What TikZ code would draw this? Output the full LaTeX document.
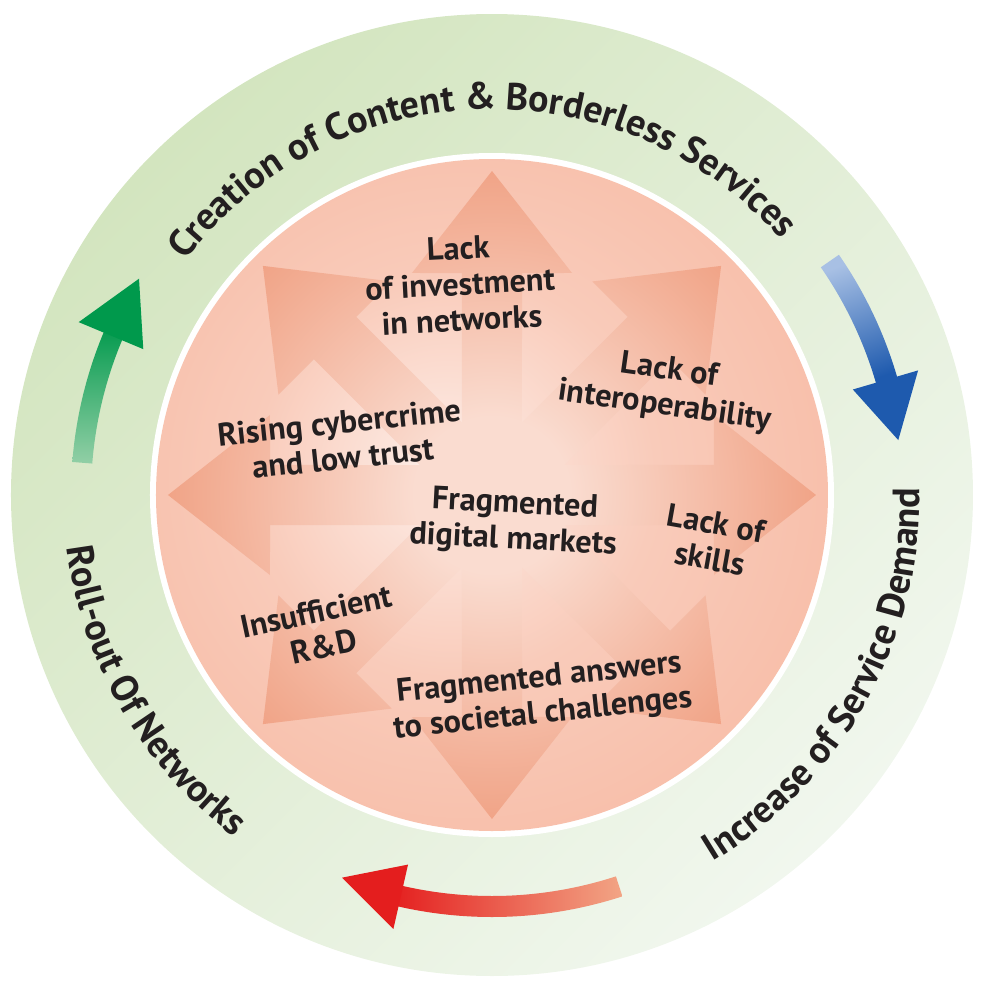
\documentclass[tikz,border=0pt]{standalone}
\usepackage{fontspec}
\setmainfont{PT Sans}
\usetikzlibrary{decorations.text}

\definecolor{ringtop}{HTML}{D3E5BF}
\definecolor{ringbot}{HTML}{F1F7EE}
\definecolor{pinkout}{HTML}{F7B8A1}
\definecolor{pinkmid}{HTML}{F9CBBA}
\definecolor{pinkin}{HTML}{FDEEE8}
\definecolor{arrowlight}{HTML}{FADCD0}
\definecolor{arrowpink}{HTML}{EE9574}
\definecolor{textdark}{HTML}{231F20}
\definecolor{greenhead}{HTML}{00994C}
\definecolor{greentail}{HTML}{92CFA6}
\definecolor{bluehead}{HTML}{1E5AAE}
\definecolor{bluetail}{HTML}{A8C0E4}
\definecolor{redhead}{HTML}{E41E1E}
\definecolor{redtail}{HTML}{F2A585}

\pgfdeclareradialshading{innerglow}{\pgfpoint{-4bp}{2bp}}{color(0bp)=(pinkin); color(15bp)=(pinkmid); color(35bp)=(pinkout); color(50bp)=(pinkout)}
\pgfdeclareradialshading{arrowfade}{\pgfpointorigin}{color(0bp)=(arrowlight); color(6bp)=(arrowlight); color(30bp)=(arrowpink); color(50bp)=(arrowpink)}

\newcommand\ringfont{\fontsize{10.8}{12}\selectfont\bfseries}

\tikzset{
  cause/.style={font=\fontsize{9.2}{10.2}\selectfont\bfseries, text=textdark, align=center},
  ringtext/.style={decorate, decoration={text along path, text align=center, text color=textdark, text={|\ringfont|#1}}}
}

\begin{document}
\begin{tikzpicture}
    \useasboundingbox (-4.92,-5.00) rectangle (4.88,4.95);
    \shade[top color=ringtop, bottom color=ringbot, shading angle=45] (0,0) circle (4.81);
    \fill[white] (0,0) circle (3.42);
    \shade[shading=innerglow] (0,0) circle (3.36);

    \shade[shading=arrowfade] foreach \a in {0,45,...,315} {({\a-90}:0.3) -- ({\a-7.7}:2.24) -- ({\a-19.82}:2.36)
        -- (\a:3.24) -- ({\a+19.82}:2.36) -- ({\a+7.7}:2.24) -- ({\a+90}:0.3) -- cycle};

    \node[cause, rotate=3] (invest) at (-0.32,2.11) {Lack\\of investment\\in networks};
    \node[cause, rotate=-8] (interop) at (1.75,1.06) {Lack of\\interoperability};
    \node[cause, rotate=6] (cyber) at (-1.51,0.55) {Rising cybercrime\\and low trust};
    \node[cause, rotate=-3] (markets) at (0.22,-0.28) {Fragmented\\digital markets};
    \node[cause, rotate=-10] (skills) at (2.21,-0.46) {Lack of\\skills};
    \node[cause, rotate=12] (rnd) at (-1.72,-1.34) {Insufficient\\R\&D};
    \node[cause, rotate=6] (answers) at (0.49,-2.02) {Fragmented answers\\to societal challenges};

    \path[ringtext={Creation of Content {\&} Borderless Services}] (172:3.86) arc[start angle=172, end angle=12, radius=3.86];
    \path[ringtext={Increase of Service Demand}] (-75:4.28) arc[start angle=-75, end angle=17, radius=4.28];
    \path[ringtext={Roll-out Of Networks}] (170:4.28) arc[start angle=170, end angle=250, radius=4.28];

    \shade[top color=greenhead, bottom color=greentail] (175.5:4.21) arc[start angle=175.5, end angle=156, radius=4.21]
        -- (156:4.01) arc[start angle=156, end angle=175.5, radius=4.01] -- cycle;
    \fill[greenhead] (157.3:3.78) -- (148.5:4.14) -- (157.3:4.48) -- cycle;

    \shade[top color=bluetail, bottom color=bluehead, shading angle=20] (34.7:4.22) arc[start angle=34.7, end angle=15.5, radius=4.22]
        -- (15.5:4.0) arc[start angle=15.5, end angle=34.7, radius=4.0] -- cycle;
    \fill[bluehead] (16.3:3.76) -- (7.7:4.1) -- (16.3:4.44) -- cycle;

    \shade[left color=redhead, right color=redtail] (-72:4.22) arc[start angle=-72, end angle=-104, radius=4.22]
        -- (-104:4.01) arc[start angle=-104, end angle=-72, radius=4.01] -- cycle;
    \fill[redhead] (-102.8:3.79) -- (-111.4:4.11) -- (-102.8:4.45) -- cycle;
\end{tikzpicture}
\end{document}
